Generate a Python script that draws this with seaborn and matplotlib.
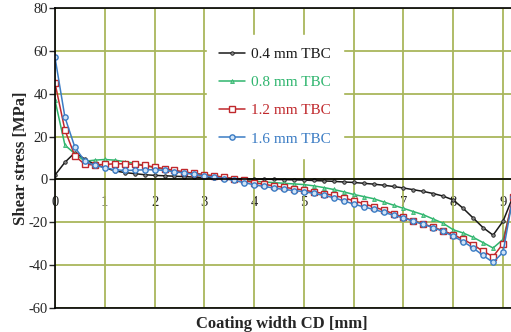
import numpy as np
import pandas as pd
import matplotlib
matplotlib.use("Agg")
import matplotlib.pyplot as plt
import seaborn as sns

# coating width positions (mm), one point every 0.2 mm
width_mm = np.round(np.arange(0, 9.21, 0.2), 1)

tbc_04 = [2, 8, 12.5, 9.5, 7, 5.5, 4, 3.2, 2.7, 2.2, 1.9, 1.7, 1.5, 1.3, 1.1, 0.9,
          0.7, 0.5, 0.4, 0.3, 0.2, 0.1, 0.0, -0.1, -0.2, -0.3, -0.5, -0.7, -0.9, -1.2,
          -1.4, -1.8, -2.2, -2.7, -3.3, -4.0, -4.8, -5.6, -6.6, -7.8, -9.6, -13.5,
          -18, -22.5, -26, -19.5, -8]
tbc_08 = [37, 16, 12, 8.5, 9, 9.3, 9, 8.3, 7.5, 6.5, 5.5, 4.7, 4.0, 3.4, 2.8, 2.2,
          1.6, 1.0, 0.4, -0.2, -0.8, -1.2, -1.5, -1.8, -2.1, -2.4, -3.0, -3.8, -4.7,
          -5.8, -7, -8, -9, -10.5, -12, -13.5, -15, -16.5, -18.5, -20.5, -23.5,
          -25, -27, -29.5, -32, -28, -10]
tbc_12 = [45, 23, 11, 7, 6.8, 7, 7.3, 7.3, 7, 6.5, 5.8, 5, 4.2, 3.5, 2.8, 2.2,
          1.6, 1.0, 0.3, -0.5, -1.5, -2.3, -3, -3.7, -4.3, -5, -5.8, -6.6, -7.5,
          -8.5, -10, -11.3, -12.8, -14.3, -16, -17.7, -19.3, -20.8, -22.3, -24,
          -25.8, -28, -30.5, -33.5, -36, -30, -8]
tbc_16 = [57, 29, 15, 8.5, 6.5, 5.5, 4.5, 4.2, 4.3, 4.5, 4.5, 4.2, 3.6, 3.0, 2.3,
          1.6, 1.0, 0.3, -0.5, -1.5, -2.5, -3.3, -4, -4.7, -5.2, -5.7, -6.5, -7.5,
          -8.5, -10, -11.5, -12.8, -14, -15.3, -16.7, -18, -19.5, -21, -22.5, -24.3,
          -26.5, -29, -32, -35.5, -38.7, -34, -8]

labels = ["0.4 mm TBC", "0.8 mm TBC", "1.2 mm TBC", "1.6 mm TBC"]
colors = ["#1a1a1a", "#2fb56e", "#c0282c", "#3b7cc4"]

sns.set_style("white")
plt.rcParams["font.family"] = ["Liberation Serif", "DejaVu Serif"]
plt.rcParams["axes.unicode_minus"] = False

fig = plt.figure(figsize=(5.11, 3.32), dpi=100)
ax = fig.add_axes([0.1076, 0.0723, 0.8924, 0.9036])

grid_col = "#a9b65c"
for s in ["left", "top", "bottom"]:
    ax.spines[s].set_color("black")
    ax.spines[s].set_linewidth(1.2)
ax.spines["right"].set_visible(False)

styles = [
    dict(marker="o", markersize=2.5, markerfacecolor="#888888", markeredgecolor="#1a1a1a", markeredgewidth=0.6),
    dict(marker="^", markersize=2.8, markerfacecolor="#7ad39e", markeredgecolor="#2fb56e", markeredgewidth=0.6),
    dict(marker="s", markersize=4.0, markerfacecolor="white", markeredgecolor="#c0282c", markeredgewidth=1.0),
    dict(marker="o", markersize=3.8, markerfacecolor="#cfe3f7", markeredgecolor="#3b7cc4", markeredgewidth=1.0),
]
for vals, lab, col, st in zip([tbc_04, tbc_08, tbc_12, tbc_16], labels, colors, styles):
    df = pd.DataFrame({"x": width_mm, "y": vals})
    sns.lineplot(data=df, x="x", y="y", ax=ax, color=col, linewidth=1.1,
                 label=lab, **st)

ax.set_xlim(0, 9.16)
ax.set_ylim(-60, 80)
ax.set_yticks(range(-60, 81, 20))
ax.set_xticks(range(0, 10))
ax.grid(True, color=grid_col, linewidth=1.3)
ax.axhline(0, color="black", linewidth=1.2, zorder=2)
ax.set_axisbelow(True)

ax.tick_params(axis="y", direction="out", length=4, width=1, labelsize=10.5, pad=1,
               left=True)
ax.tick_params(axis="x", bottom=False, labelbottom=False)

# x tick labels sit just under the zero line
sec = ax.secondary_xaxis(60 / 140)
sec.set_xticks(range(0, 10))
sec.tick_params(length=0, labelsize=10.5, pad=12)
sec.spines["bottom"].set_visible(False)

ax.set_xlabel("")
ax.set_ylabel("Shear stress [MPa]", fontsize=12, fontweight="bold", labelpad=0)
fig.text(0.552, 0.0, "Coating width CD [mm]", fontsize=12, fontweight="bold",
         ha="center", va="bottom")

leg = ax.legend(loc="upper left", bbox_to_anchor=(0.333, 0.91), frameon=True,
                fontsize=11, handlelength=1.7, labelspacing=0.95, borderpad=0.8,
                handletextpad=0.4, borderaxespad=0)
leg.get_frame().set_facecolor("white")
leg.get_frame().set_edgecolor("white")
leg.get_frame().set_alpha(1)
for txt, col in zip(leg.get_texts(), colors):
    txt.set_color(col)

fig.savefig("out.png", dpi=100)
